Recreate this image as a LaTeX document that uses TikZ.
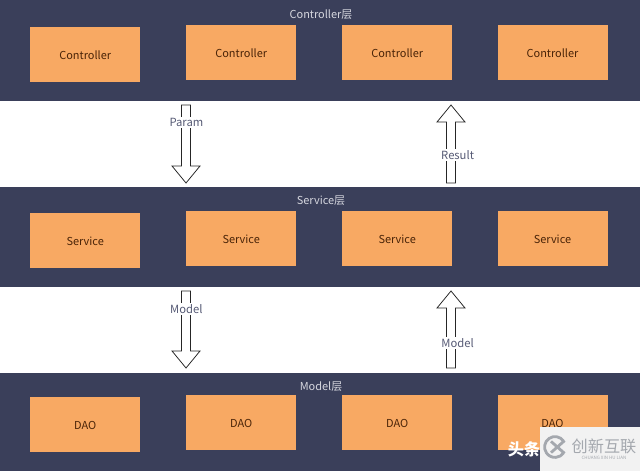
\documentclass[tikz,border=0pt]{standalone}
\usepackage{fontspec}
\setmainfont{Noto Sans CJK SC}
\usepackage{xcolor}
\usetikzlibrary{calc}
\definecolor{bandblue}{HTML}{3A3F5A}
\definecolor{boxorange}{HTML}{F8A963}
\definecolor{boxtext}{HTML}{4A2408}
\definecolor{titlegrey}{HTML}{D5D6DE}
\definecolor{labelgrey}{HTML}{565A75}
\definecolor{markgrey}{HTML}{F2F2F2}
\definecolor{logogrey}{HTML}{A4A8AE}
\tikzset{
  band/.style={fill=bandblue,inner sep=0pt,minimum width=16cm},
  bandtitle/.style={text=titlegrey,font=\fontsize{7.8}{9}\selectfont,inner sep=0pt},
  unit/.style={fill=boxorange,text=boxtext,inner sep=0pt,minimum width=2.75cm,minimum height=1.375cm,font=\fontsize{7.8}{9}\selectfont,text height=7.5pt,text depth=0pt},
  flowlabel/.style={fill=white,text=labelgrey,inner sep=1pt,font=\fontsize{8}{9}\selectfont},
  hollow/.style={draw=black!85,fill=white,line width=0.55pt,to path={
    let \p1=($(\tikztotarget)!.425cm!(\tikztostart)$) in
    ($(\tikztostart)!.1125cm!90:(\tikztotarget)$)
    -- ($(\p1)!.1125cm!90:(\tikztotarget)$)
    -- ($(\p1)!.35cm!90:(\tikztotarget)$)
    -- (\tikztotarget)
    -- ($(\p1)!.35cm!-90:(\tikztotarget)$)
    -- ($(\p1)!.1125cm!-90:(\tikztotarget)$)
    -- ($(\tikztostart)!.1125cm!-90:(\tikztotarget)$)
    -- cycle}}
}
\begin{document}
\begin{tikzpicture}
  \useasboundingbox (0,0) rectangle (16,11.775);

  % three layers
  \node[band,minimum height=2.525cm] (ctrlband) at (8,10.5125) {};
  \node[band,minimum height=2.5cm]   (servband) at (8,5.85) {};
  \node[band,minimum height=2.45cm]  (daoband)  at (8,1.225) {};

  \node[bandtitle] (ctrltitle) at (8.025,11.4) {Controller层};
  \node[bandtitle] (servtitle) at (8.025,6.75) {Service层};
  \node[bandtitle] (daotitle)  at (8.025,2.1) {Model层};

  \node[unit] (c1) at (2.13,10.4125) {Controller};
  \node[unit] (c2) at (6.03,10.4625) {Controller};
  \node[unit] (c3) at (9.93,10.4625) {Controller};
  \node[unit] (c4) at (13.8125,10.4625) {Controller};

  \node[unit] (s1) at (2.13,5.7625) {Service};
  \node[unit] (s2) at (6.03,5.8125) {Service};
  \node[unit] (s3) at (9.93,5.8125) {Service};
  \node[unit] (s4) at (13.8125,5.8125) {Service};

  \node[unit] (d1) at (2.13,1.1625) {DAO};
  \node[unit] (d2) at (6.03,1.2125) {DAO};
  \node[unit] (d3) at (9.93,1.2125) {DAO};
  \node[unit] (d4) at (13.8125,1.2125) {DAO};

  % block arrows between the layers
  \coordinate (p1) at (4.65,9.15);
  \coordinate (p2) at (4.65,7.2);
  \coordinate (r1) at (11.275,7.2);
  \coordinate (r2) at (11.275,9.15);
  \coordinate (m1) at (4.65,4.5);
  \coordinate (m2) at (4.65,2.575);
  \coordinate (n1) at (11.275,2.575);
  \coordinate (n2) at (11.275,4.5);

  \draw[hollow] (p1) to (p2);
  \draw[hollow] (r1) to (r2);
  \draw[hollow] (m1) to (m2);
  \draw[hollow] (n1) to (n2);

  \node[flowlabel] (param)   at (4.66,8.715) {Param};
  \node[flowlabel] (result)  at (11.44,7.89) {Result};
  \node[flowlabel] (modeld)  at (4.66,4.04) {Model};
  \node[flowlabel] (modelu)  at (11.44,3.19) {Model};

  % watermark
  \node[text=white,font=\fontsize{11.5}{12}\selectfont\bfseries,inner sep=0pt] (toutiao) at (13.1,.55) {头条};
  \node[fill=markgrey,inner sep=0pt,minimum width=2.5cm,minimum height=1.1cm] (markbox) at (14.75,.55) {};
  \node[circle,inner sep=0pt,minimum size=.5cm] (logo) at (13.875,.6) {};
  \draw[logogrey,line width=2pt] ($(logo)+(35:.26)$) arc (35:325:.26);
  \draw[logogrey,line width=2pt] ($(logo)+(-.1,.14)$) -- ($(logo)+(.24,-.16)$);
  \draw[logogrey,line width=2pt] ($(logo)+(-.1,-.14)$) -- ($(logo)+(.24,.16)$);
  \node[text=logogrey,font=\fontsize{11.5}{12}\selectfont,inner sep=0pt] (markcn) at (15.1,.62) {创新互联};
  \node[text=logogrey,font=\fontsize{3.2}{4}\selectfont,inner sep=0pt] (markpy) at (15.1,.325) {CHUANG XIN HU LIAN};
\end{tikzpicture}
\end{document}
